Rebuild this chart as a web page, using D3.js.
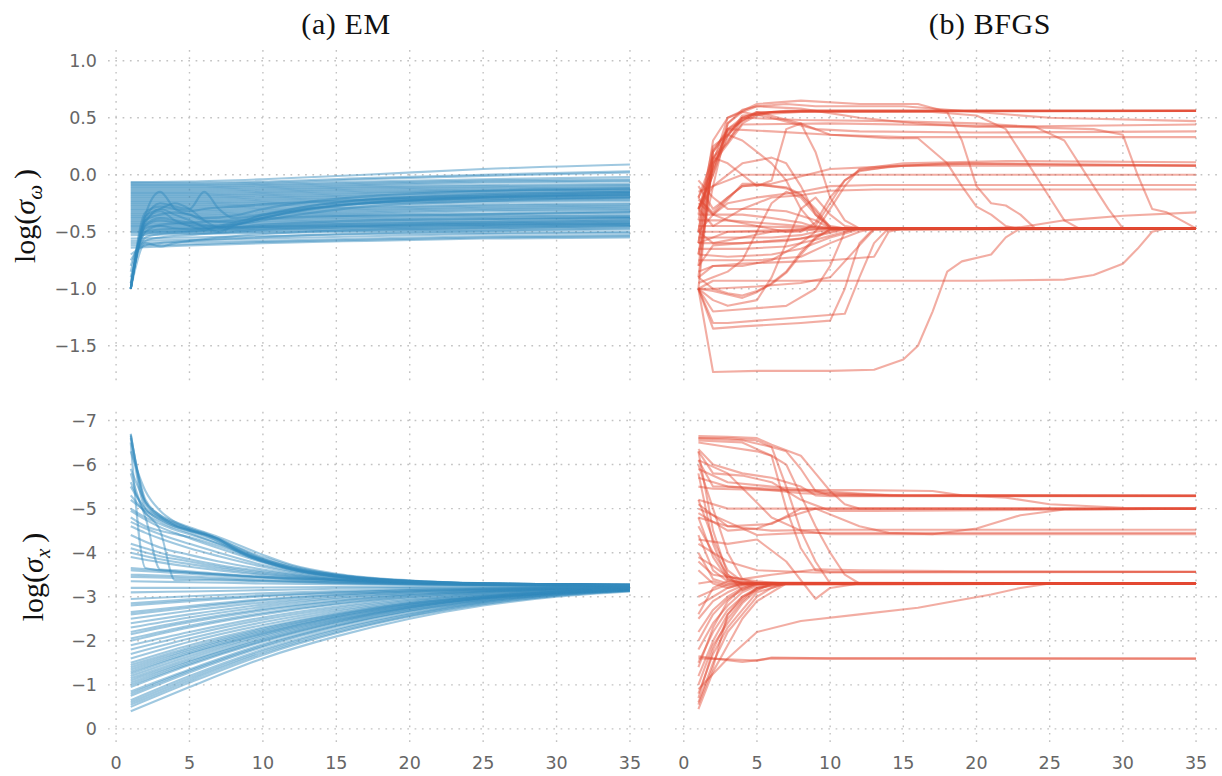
<!DOCTYPE html>
<html><head><meta charset="utf-8">
<script src="https://cdn.jsdelivr.net/npm/d3@7"></script>
<style>
html,body{margin:0;padding:0;background:#fff;}
svg{display:block;}
</style></head>
<body>
<script>
// ---------- tick labels ----------
const iterTicks = [0, 5, 10, 15, 20, 25, 30, 35];
const omegaTicks = [1.0, 0.5, 0.0, -0.5, -1.0, -1.5];
const sigmaXTicks = [-7, -6, -5, -4, -3, -2, -1, 0];
const panelTitles = ["(a) EM", "(b) BFGS"];

// ---------- series: each run is a list of [iteration, value] ----------
const emOmega = [
 [[1,-0.065],[5,-0.06],[10,-0.04],[17,0.0],[25,0.05],[35,0.09]],
 [[1,-0.07],[5,-0.07],[10,-0.06],[17,-0.03],[25,0.0],[35,0.03]],
 [[1,-0.08],[5,-0.08],[10,-0.07],[17,-0.04],[25,-0.01],[35,0.02]],
 [[1,-0.09],[5,-0.09],[10,-0.08],[17,-0.06],[25,-0.04],[35,-0.02]],
 [[1,-0.1],[5,-0.1],[10,-0.09],[17,-0.07],[25,-0.05],[35,-0.04]],
 [[1,-0.11],[5,-0.11],[10,-0.1],[17,-0.08],[25,-0.06],[35,-0.05]],
 [[1,-0.12],[5,-0.12],[10,-0.11],[17,-0.09],[25,-0.07],[35,-0.06]],
 [[1,-0.13],[5,-0.13],[10,-0.12],[17,-0.1],[25,-0.09],[35,-0.08]],
 [[1,-0.14],[5,-0.14],[10,-0.13],[17,-0.11],[25,-0.1],[35,-0.09]],
 [[1,-0.15],[5,-0.15],[10,-0.14],[17,-0.12],[25,-0.11],[35,-0.1]],
 [[1,-0.16],[5,-0.16],[10,-0.15],[17,-0.13],[25,-0.12],[35,-0.11]],
 [[1,-0.17],[5,-0.17],[10,-0.16],[17,-0.14],[25,-0.13],[35,-0.12]],
 [[1,-0.18],[5,-0.18],[10,-0.17],[17,-0.15],[25,-0.14],[35,-0.13]],
 [[1,-0.19],[5,-0.19],[10,-0.18],[17,-0.16],[25,-0.14],[35,-0.13]],
 [[1,-0.2],[5,-0.2],[10,-0.19],[17,-0.17],[25,-0.15],[35,-0.14]],
 [[1,-0.21],[5,-0.21],[10,-0.2],[17,-0.18],[25,-0.16],[35,-0.15]],
 [[1,-0.22],[5,-0.22],[10,-0.21],[17,-0.19],[25,-0.17],[35,-0.15]],
 [[1,-0.23],[5,-0.23],[10,-0.22],[17,-0.2],[25,-0.18],[35,-0.16]],
 [[1,-0.24],[5,-0.24],[10,-0.23],[17,-0.21],[25,-0.19],[35,-0.17]],
 [[1,-0.25],[5,-0.25],[10,-0.24],[17,-0.22],[25,-0.2],[35,-0.19]],
 [[1,-0.26],[5,-0.26],[10,-0.25],[17,-0.23],[25,-0.21],[35,-0.2]],
 [[1,-0.27],[5,-0.27],[10,-0.26],[17,-0.24],[25,-0.22],[35,-0.21]],
 [[1,-0.28],[5,-0.28],[10,-0.27],[17,-0.25],[25,-0.23],[35,-0.22]],
 [[1,-0.29],[5,-0.29],[10,-0.28],[17,-0.26],[25,-0.24],[35,-0.23]],
 [[1,-0.3],[5,-0.3],[10,-0.29],[17,-0.28],[25,-0.26],[35,-0.25]],
 [[1,-0.31],[5,-0.31],[10,-0.3],[17,-0.29],[25,-0.27],[35,-0.26]],
 [[1,-0.32],[5,-0.32],[10,-0.31],[17,-0.3],[25,-0.28],[35,-0.27]],
 [[1,-0.33],[5,-0.33],[10,-0.32],[17,-0.31],[25,-0.29],[35,-0.28]],
 [[1,-0.34],[5,-0.34],[10,-0.33],[17,-0.32],[25,-0.3],[35,-0.29]],
 [[1,-0.35],[5,-0.35],[10,-0.34],[17,-0.33],[25,-0.31],[35,-0.3]],
 [[1,-0.36],[5,-0.36],[10,-0.35],[17,-0.34],[25,-0.32],[35,-0.31]],
 [[1,-0.37],[5,-0.37],[10,-0.36],[17,-0.35],[25,-0.34],[35,-0.32]],
 [[1,-0.38],[5,-0.38],[10,-0.37],[17,-0.36],[25,-0.35],[35,-0.33]],
 [[1,-0.39],[5,-0.39],[10,-0.38],[17,-0.37],[25,-0.36],[35,-0.36]],
 [[1,-0.4],[5,-0.4],[10,-0.39],[17,-0.38],[25,-0.37],[35,-0.35]],
 [[1,-0.41],[5,-0.41],[10,-0.4],[17,-0.39],[25,-0.38],[35,-0.37]],
 [[1,-0.42],[5,-0.42],[10,-0.41],[17,-0.4],[25,-0.39],[35,-0.37]],
 [[1,-0.43],[5,-0.43],[10,-0.42],[17,-0.41],[25,-0.4],[35,-0.38]],
 [[1,-0.44],[5,-0.44],[10,-0.43],[17,-0.42],[25,-0.41],[35,-0.39]],
 [[1,-0.45],[5,-0.45],[10,-0.44],[17,-0.43],[25,-0.42],[35,-0.4]],
 [[1,-0.46],[5,-0.46],[10,-0.45],[17,-0.44],[25,-0.43],[35,-0.41]],
 [[1,-0.47],[5,-0.47],[10,-0.46],[17,-0.45],[25,-0.44],[35,-0.42]],
 [[1,-0.48],[5,-0.48],[10,-0.47],[17,-0.46],[25,-0.45],[35,-0.43]],
 [[1,-0.49],[5,-0.49],[10,-0.48],[17,-0.47],[25,-0.46],[35,-0.44]],
 [[1,-0.5],[5,-0.5],[10,-0.49],[17,-0.48],[25,-0.47],[35,-0.45]],
 [[1,-0.51],[5,-0.51],[10,-0.5],[17,-0.49],[25,-0.48],[35,-0.46]],
 [[1,-0.53],[5,-0.52],[10,-0.51],[17,-0.5],[25,-0.49],[35,-0.47]],
 [[1,-0.56],[5,-0.55],[10,-0.54],[17,-0.52],[25,-0.51],[35,-0.5]],
 [[1,-0.58],[5,-0.57],[10,-0.56],[17,-0.54],[25,-0.52],[35,-0.51]],
 [[1,-0.6],[5,-0.59],[10,-0.58],[17,-0.56],[25,-0.54],[35,-0.53]],
 [[1,-0.62],[5,-0.61],[10,-0.59],[17,-0.57],[25,-0.55],[35,-0.54]],
 [[1,-0.64],[5,-0.62],[10,-0.6],[17,-0.58],[25,-0.56],[35,-0.55]],
 [[1,-1.0],[2,-0.35],[3,-0.15],[4,-0.3],[5,-0.35],[6,-0.4],[8,-0.42],[10,-0.35],[13,-0.28],[17,-0.22],[23,-0.18],[35,-0.15]],
 [[1,-1.0],[2,-0.38],[3,-0.25],[4,-0.28],[5,-0.3],[6,-0.15],[7,-0.3],[8,-0.38],[10,-0.35],[13,-0.3],[17,-0.25],[23,-0.21],[35,-0.18]],
 [[1,-1.0],[2,-0.4],[3,-0.32],[4,-0.4],[5,-0.45],[6,-0.48],[7,-0.45],[8,-0.42],[10,-0.36],[13,-0.28],[17,-0.22],[23,-0.19],[35,-0.16]],
 [[1,-1.0],[2,-0.42],[3,-0.3],[4,-0.35],[5,-0.4],[6,-0.46],[7,-0.5],[8,-0.45],[10,-0.38],[13,-0.3],[17,-0.24],[23,-0.2],[35,-0.17]],
 [[1,-1.0],[2,-0.45],[3,-0.4],[4,-0.42],[5,-0.44],[6,-0.45],[8,-0.44],[10,-0.4],[13,-0.34],[17,-0.28],[23,-0.24],[35,-0.2]],
 [[1,-0.95],[2,-0.5],[3,-0.45],[4,-0.47],[5,-0.48],[6,-0.47],[8,-0.46],[10,-0.44],[13,-0.42],[17,-0.4],[23,-0.39],[35,-0.38]],
 [[1,-1.0],[2,-0.6],[3,-0.63],[4,-0.6],[5,-0.58],[8,-0.54],[13,-0.5],[23,-0.47],[35,-0.45]],
 [[1,-0.9],[2,-0.55],[3,-0.52],[5,-0.5],[8,-0.48],[13,-0.46],[23,-0.43],[35,-0.42]],
 [[1,-0.85],[2,-0.5],[3,-0.48],[5,-0.47],[8,-0.46],[13,-0.45],[23,-0.44],[35,-0.43]],
 [[1,-0.75],[2,-0.58],[3,-0.55],[5,-0.53],[8,-0.5],[13,-0.47],[23,-0.45],[35,-0.44]],
 [[1,-0.7],[2,-0.62],[3,-0.6],[5,-0.58],[8,-0.56],[13,-0.53],[23,-0.5],[35,-0.48]],
 [[1,-1.0],[2,-0.33],[3,-0.28],[4,-0.3],[5,-0.32],[6,-0.3],[8,-0.28],[10,-0.26],[13,-0.24],[17,-0.22],[23,-0.2],[35,-0.18]],
 [[1,-1.0],[2,-0.36],[3,-0.3],[4,-0.25],[5,-0.3],[6,-0.4],[7,-0.46],[8,-0.44],[10,-0.38],[13,-0.3],[17,-0.25],[23,-0.22],[35,-0.2]],
 [[1,-0.95],[2,-0.47],[3,-0.44],[5,-0.42],[8,-0.4],[13,-0.37],[23,-0.35],[35,-0.33]],
 [[1,-1.0],[2,-0.4],[3,-0.35],[4,-0.33],[5,-0.35],[6,-0.38],[8,-0.36],[10,-0.3],[13,-0.24],[17,-0.19],[23,-0.15],[35,-0.12]],
 [[1,-0.8],[2,-0.52],[3,-0.5],[5,-0.49],[8,-0.47],[13,-0.44],[23,-0.42],[35,-0.4]],
 [[1,-1.0],[2,-0.44],[3,-0.38],[4,-0.4],[5,-0.42],[6,-0.44],[7,-0.46],[8,-0.44],[10,-0.38],[13,-0.31],[17,-0.25],[23,-0.21],[35,-0.18]]
];

const emSigmaX = [
 [[1,-0.4],[5,-0.95],[10,-1.6],[15,-2.1],[20,-2.5],[25,-2.8],[30,-3.0],[35,-3.12]],
 [[1,-0.5],[5,-1.05],[10,-1.68],[15,-2.17],[20,-2.55],[25,-2.83],[30,-3.02],[35,-3.13]],
 [[1,-0.55],[5,-1.1],[10,-1.72],[15,-2.2],[20,-2.57],[25,-2.85],[30,-3.03],[35,-3.14]],
 [[1,-0.6],[5,-1.15],[10,-1.76],[15,-2.24],[20,-2.6],[25,-2.87],[30,-3.04],[35,-3.14]],
 [[1,-0.65],[5,-1.2],[10,-1.8],[15,-2.27],[20,-2.62],[25,-2.88],[30,-3.05],[35,-3.14]],
 [[1,-0.75],[5,-1.28],[10,-1.86],[15,-2.32],[20,-2.66],[25,-2.9],[30,-3.06],[35,-3.15]],
 [[1,-0.8],[5,-1.32],[10,-1.89],[15,-2.34],[20,-2.68],[25,-2.91],[30,-3.07],[35,-3.15]],
 [[1,-0.85],[5,-1.35],[10,-1.92],[15,-2.36],[20,-2.69],[25,-2.92],[30,-3.07],[35,-3.15]],
 [[1,-0.95],[5,-1.45],[10,-1.98],[15,-2.4],[20,-2.72],[25,-2.94],[30,-3.08],[35,-3.16]],
 [[1,-1.0],[5,-1.48],[10,-2.0],[15,-2.42],[20,-2.73],[25,-2.95],[30,-3.08],[35,-3.16]],
 [[1,-1.05],[5,-1.52],[10,-2.03],[15,-2.44],[20,-2.75],[25,-2.96],[30,-3.09],[35,-3.16]],
 [[1,-1.1],[5,-1.55],[10,-2.06],[15,-2.46],[20,-2.76],[25,-2.96],[30,-3.09],[35,-3.16]],
 [[1,-1.15],[5,-1.6],[10,-2.1],[15,-2.48],[20,-2.77],[25,-2.97],[30,-3.09],[35,-3.17]],
 [[1,-1.2],[5,-1.65],[10,-2.13],[15,-2.5],[20,-2.78],[25,-2.97],[30,-3.1],[35,-3.17]],
 [[1,-1.25],[5,-1.7],[10,-2.16],[15,-2.53],[20,-2.8],[25,-2.98],[30,-3.1],[35,-3.17]],
 [[1,-1.3],[5,-1.73],[10,-2.18],[15,-2.54],[20,-2.81],[25,-2.99],[30,-3.1],[35,-3.17]],
 [[1,-1.35],[5,-1.77],[10,-2.21],[15,-2.56],[20,-2.82],[25,-3.0],[30,-3.11],[35,-3.17]],
 [[1,-1.4],[5,-1.81],[10,-2.24],[15,-2.58],[20,-2.84],[25,-3.0],[30,-3.11],[35,-3.18]],
 [[1,-1.45],[5,-1.85],[10,-2.27],[15,-2.6],[20,-2.85],[25,-3.01],[30,-3.11],[35,-3.18]],
 [[1,-1.5],[5,-1.9],[10,-2.3],[15,-2.62],[20,-2.86],[25,-3.02],[30,-3.12],[35,-3.18]],
 [[1,-1.6],[5,-1.98],[10,-2.36],[15,-2.66],[20,-2.88],[25,-3.03],[30,-3.12],[35,-3.18]],
 [[1,-1.7],[5,-2.05],[10,-2.42],[15,-2.7],[20,-2.91],[25,-3.05],[30,-3.13],[35,-3.18]],
 [[1,-1.8],[5,-2.13],[10,-2.48],[15,-2.74],[20,-2.93],[25,-3.06],[30,-3.14],[35,-3.19]],
 [[1,-1.9],[5,-2.2],[10,-2.53],[15,-2.78],[20,-2.96],[25,-3.08],[30,-3.15],[35,-3.19]],
 [[1,-2.0],[5,-2.3],[10,-2.6],[15,-2.83],[20,-2.99],[25,-3.1],[30,-3.16],[35,-3.19]],
 [[1,-2.05],[5,-2.34],[10,-2.63],[15,-2.85],[20,-3.0],[25,-3.1],[30,-3.16],[35,-3.19]],
 [[1,-2.15],[5,-2.42],[10,-2.69],[15,-2.89],[20,-3.03],[25,-3.12],[30,-3.17],[35,-3.2]],
 [[1,-2.2],[5,-2.46],[10,-2.72],[15,-2.91],[20,-3.04],[25,-3.12],[30,-3.17],[35,-3.2]],
 [[1,-2.3],[5,-2.53],[10,-2.77],[15,-2.95],[20,-3.06],[25,-3.13],[30,-3.18],[35,-3.2]],
 [[1,-2.4],[5,-2.6],[10,-2.82],[15,-2.98],[20,-3.08],[25,-3.14],[30,-3.18],[35,-3.2]],
 [[1,-2.5],[5,-2.68],[10,-2.87],[15,-3.01],[20,-3.1],[25,-3.15],[30,-3.19],[35,-3.21]],
 [[1,-2.6],[5,-2.75],[10,-2.92],[15,-3.04],[20,-3.12],[25,-3.16],[30,-3.19],[35,-3.21]],
 [[1,-2.65],[5,-2.79],[10,-2.94],[15,-3.05],[20,-3.12],[25,-3.17],[30,-3.2],[35,-3.21]],
 [[1,-2.8],[5,-2.9],[10,-3.01],[15,-3.09],[20,-3.15],[25,-3.18],[30,-3.2],[35,-3.21]],
 [[1,-2.85],[5,-2.94],[10,-3.03],[15,-3.1],[20,-3.15],[25,-3.18],[30,-3.2],[35,-3.22]],
 [[1,-2.95],[5,-3.01],[10,-3.08],[15,-3.13],[20,-3.17],[25,-3.19],[30,-3.21],[35,-3.22]],
 [[1,-3.1],[5,-3.12],[10,-3.15],[15,-3.18],[20,-3.2],[25,-3.21],[30,-3.22],[35,-3.22]],
 [[1,-3.2],[5,-3.2],[10,-3.21],[15,-3.22],[20,-3.22],[25,-3.23],[30,-3.23],[35,-3.23]],
 [[1,-6.7],[2,-5.1],[3,-4.8],[4,-4.62],[5,-4.5],[6,-4.4],[7,-4.25],[8,-4.08],[9,-3.92],[10,-3.8],[12,-3.62],[15,-3.46],[20,-3.34],[25,-3.29],[35,-3.26]],
 [[1,-6.65],[2,-5.2],[3,-4.85],[4,-4.65],[5,-4.52],[6,-4.42],[7,-4.3],[8,-4.12],[9,-3.95],[10,-3.83],[12,-3.64],[15,-3.48],[20,-3.35],[25,-3.3],[35,-3.27]],
 [[1,-6.6],[2,-5.0],[3,-4.75],[4,-4.6],[5,-4.5],[6,-4.42],[7,-4.32],[8,-4.15],[9,-4.0],[10,-3.86],[12,-3.66],[15,-3.5],[20,-3.36],[25,-3.3],[35,-3.27]],
 [[1,-6.5],[2,-3.65],[3,-3.6],[5,-3.55],[10,-3.45],[15,-3.38],[20,-3.32],[35,-3.27]],
 [[1,-5.6],[2,-4.8],[3,-3.62],[4,-3.6],[6,-3.55],[10,-3.45],[15,-3.38],[20,-3.32],[35,-3.27]],
 [[1,-5.3],[2,-4.9],[3,-4.5],[4,-3.38],[6,-3.38],[10,-3.35],[20,-3.3],[35,-3.27]],
 [[1,-5.9],[2,-5.15],[3,-4.85],[4,-4.7],[5,-4.58],[7,-4.35],[10,-3.95],[12,-3.72],[15,-3.52],[20,-3.37],[25,-3.31],[35,-3.27]],
 [[1,-5.5],[2,-5.0],[3,-4.8],[4,-4.67],[5,-4.55],[7,-4.3],[10,-3.9],[12,-3.7],[15,-3.5],[20,-3.36],[25,-3.3],[35,-3.27]],
 [[1,-5.2],[2,-4.95],[3,-4.75],[4,-4.6],[5,-4.5],[7,-4.25],[10,-3.85],[12,-3.66],[15,-3.48],[20,-3.35],[25,-3.3],[35,-3.27]],
 [[1,-5.0],[2,-4.8],[3,-4.65],[4,-4.52],[5,-4.42],[7,-4.2],[10,-3.82],[12,-3.63],[15,-3.46],[20,-3.34],[25,-3.29],[35,-3.26]],
 [[1,-4.95],[2,-4.75],[3,-4.58],[4,-4.45],[5,-4.33],[7,-4.1],[10,-3.78],[12,-3.6],[15,-3.45],[20,-3.34],[25,-3.29],[35,-3.26]],
 [[1,-4.7],[2,-4.55],[3,-4.42],[5,-4.2],[7,-4.0],[10,-3.72],[12,-3.58],[15,-3.44],[20,-3.33],[25,-3.29],[35,-3.26]],
 [[1,-4.6],[2,-4.45],[3,-4.32],[5,-4.1],[7,-3.92],[10,-3.68],[12,-3.55],[15,-3.42],[20,-3.33],[25,-3.29],[35,-3.26]],
 [[1,-4.4],[2,-4.25],[3,-4.12],[5,-3.95],[7,-3.8],[10,-3.62],[15,-3.4],[20,-3.32],[25,-3.28],[35,-3.26]],
 [[1,-4.2],[2,-4.1],[3,-4.0],[5,-3.85],[7,-3.72],[10,-3.58],[15,-3.4],[20,-3.32],[25,-3.28],[35,-3.25]],
 [[1,-4.1],[3,-3.92],[5,-3.8],[7,-3.68],[10,-3.55],[15,-3.39],[20,-3.31],[35,-3.25]],
 [[1,-4.0],[3,-3.85],[5,-3.74],[7,-3.64],[10,-3.52],[15,-3.38],[20,-3.31],[35,-3.25]],
 [[1,-3.9],[3,-3.78],[5,-3.68],[8,-3.56],[12,-3.44],[17,-3.35],[25,-3.28],[35,-3.25]],
 [[1,-3.65],[3,-3.6],[5,-3.55],[8,-3.48],[12,-3.4],[17,-3.33],[25,-3.27],[35,-3.25]],
 [[1,-3.6],[3,-3.56],[5,-3.52],[8,-3.46],[12,-3.39],[17,-3.32],[25,-3.27],[35,-3.25]],
 [[1,-3.5],[5,-3.46],[10,-3.38],[15,-3.32],[25,-3.27],[35,-3.24]],
 [[1,-3.45],[5,-3.42],[10,-3.36],[15,-3.31],[25,-3.26],[35,-3.24]],
 [[1,-3.35],[5,-3.33],[10,-3.3],[20,-3.27],[35,-3.24]],
 [[1,-6.3],[2,-5.4],[3,-4.95],[4,-4.7],[5,-4.55],[6,-4.45],[7,-4.3],[8,-4.1],[10,-3.85],[12,-3.67],[15,-3.5],[20,-3.36],[25,-3.3],[35,-3.27]],
 [[1,-5.8],[2,-4.9],[3,-4.7],[5,-4.45],[7,-4.2],[10,-3.8],[12,-3.62],[15,-3.46],[20,-3.34],[35,-3.26]],
 [[1,-4.8],[2,-4.6],[3,-4.5],[5,-4.35],[7,-4.15],[10,-3.8],[12,-3.62],[15,-3.46],[20,-3.34],[35,-3.26]],
 [[1,-6.68],[2,-5.15],[3,-4.82],[4,-4.63],[5,-4.52],[6,-4.43],[7,-4.3],[8,-4.1],[9,-3.94],[10,-3.82],[12,-3.63],[15,-3.47],[20,-3.35],[25,-3.3],[35,-3.27]]
];

const bfgsOmega = [
 [[1,-1.0],[2,0.22],[3,0.38],[4,0.47],[5,0.53],[6,0.55],[8,0.56],[35,0.56]],
 [[1,-0.6],[2,0.2],[3,0.4],[4,0.5],[5,0.54],[7,0.56],[35,0.56]],
 [[1,-0.35],[2,0.25],[3,0.35],[4,0.48],[5,0.54],[8,0.56],[35,0.56]],
 [[1,-0.8],[2,0.1],[3,0.3],[4,0.45],[5,0.52],[6,0.55],[9,0.56],[35,0.56]],
 [[1,-0.9],[2,0.15],[3,0.28],[4,0.5],[5,0.55],[35,0.56]],
 [[1,-0.5],[2,0.3],[3,0.5],[5,0.6],[7,0.62],[9,0.6],[15,0.6],[20,0.55],[25,0.5],[35,0.47]],
 [[1,-0.3],[2,0.0],[3,0.45],[4,0.57],[5,0.6],[8,0.58],[12,0.5],[16,0.45],[20,0.42],[35,0.44]],
 [[1,-0.7],[2,-0.1],[3,0.45],[4,0.55],[6,0.5],[9,0.4],[12,0.38],[20,0.37],[35,0.38]],
 [[1,-0.2],[2,0.05],[3,0.4],[5,0.55],[8,0.45],[10,0.35],[15,0.33],[35,0.33]],
 [[1,-0.6],[2,0.1],[3,0.5],[5,0.62],[8,0.65],[12,0.62],[16,0.62],[18,0.55],[19,0.3],[20,-0.1],[21,-0.25],[22,-0.27],[23,-0.35],[24,-0.47],[35,-0.47]],
 [[1,-0.4],[2,0.15],[4,0.52],[8,0.55],[12,0.55],[17,0.55],[20,0.52],[22,0.4],[23,0.2],[25,-0.2],[26,-0.4],[27,-0.47],[35,-0.47]],
 [[1,-0.5],[2,0.2],[4,0.5],[8,0.48],[14,0.47],[20,0.45],[24,0.42],[26,0.3],[28,-0.1],[29,-0.3],[30,-0.47],[35,-0.47]],
 [[1,-0.3],[3,0.4],[6,0.38],[10,0.35],[14,0.32],[16,0.32],[18,0.1],[19,-0.1],[20,-0.28],[21,-0.35],[22,-0.45],[23,-0.48],[35,-0.47]],
 [[1,-0.7],[2,0.1],[4,0.44],[10,0.45],[20,0.43],[28,0.4],[30,0.35],[31,0.0],[32,-0.3],[33,-0.33],[34,-0.4],[35,-0.47]],
 [[1,-0.2],[2,-0.35],[3,-0.4],[5,-0.45],[7,-0.5],[8,-0.5],[9,-0.42],[10,-0.2],[11,-0.05],[12,0.03],[14,0.07],[18,0.1],[25,0.09],[35,0.08]],
 [[1,-0.5],[2,-0.6],[4,-0.55],[6,-0.5],[8,-0.48],[9,-0.45],[10,-0.25],[11,-0.05],[12,0.04],[15,0.08],[20,0.1],[35,0.08]],
 [[1,-0.9],[2,-0.8],[4,-0.8],[6,-0.75],[8,-0.6],[9,-0.5],[10,-0.3],[11,-0.1],[12,0.05],[15,0.1],[22,0.12],[35,0.11]],
 [[1,-0.1],[2,-0.3],[4,-0.1],[6,-0.08],[10,0.05],[15,0.08],[35,0.08]],
 [[1,-0.5],[2,-0.35],[3,-0.25],[5,-0.2],[8,-0.15],[10,-0.1],[13,-0.09],[35,-0.09]],
 [[1,-0.3],[2,-0.45],[4,-0.3],[6,-0.2],[8,-0.18],[10,-0.14],[13,-0.13],[35,-0.13]],
 [[1,-0.15],[2,-0.1],[4,0.0],[8,0.0],[35,0.0]],
 [[1,-0.25],[2,-0.35],[3,-0.22],[4,-0.08],[5,-0.08],[6,-0.1],[7,-0.11],[8,-0.17],[9,-0.3],[10,-0.46],[11,-0.47],[35,-0.47]],
 [[1,-0.22],[2,-0.33],[3,-0.2],[4,-0.1],[5,-0.09],[6,-0.1],[7,-0.12],[8,-0.18],[9,-0.32],[10,-0.47],[35,-0.47]],
 [[1,-1.0],[2,-1.02],[3,-1.05],[4,-1.08],[5,-1.03],[6,-0.95],[7,-0.85],[8,-0.68],[9,-0.55],[10,-0.48],[35,-0.47]],
 [[1,-1.0],[2,-1.0],[3,-1.04],[4,-1.06],[5,-1.02],[6,-0.96],[7,-0.86],[8,-0.7],[9,-0.56],[10,-0.48],[35,-0.47]],
 [[1,-0.35],[2,-0.35],[4,-0.35],[6,-0.38],[8,-0.42],[9,-0.46],[10,-0.47],[35,-0.47]],
 [[1,-0.4],[3,-0.4],[5,-0.42],[7,-0.44],[9,-0.46],[10,-0.47],[35,-0.47]],
 [[1,-0.45],[4,-0.45],[7,-0.46],[9,-0.47],[35,-0.47]],
 [[1,-0.5],[4,-0.5],[7,-0.5],[9,-0.48],[10,-0.47],[35,-0.47]],
 [[1,-0.55],[4,-0.55],[6,-0.55],[8,-0.53],[9,-0.5],[11,-0.47],[35,-0.47]],
 [[1,-0.6],[4,-0.6],[7,-0.58],[9,-0.54],[11,-0.48],[12,-0.47],[35,-0.47]],
 [[1,-0.65],[4,-0.65],[7,-0.63],[9,-0.57],[11,-0.5],[12,-0.47],[35,-0.47]],
 [[1,-0.7],[3,-0.72],[6,-0.7],[8,-0.65],[10,-0.55],[12,-0.48],[35,-0.47]],
 [[1,-0.75],[5,-0.75],[8,-0.72],[10,-0.6],[12,-0.5],[13,-0.47],[35,-0.47]],
 [[1,-0.95],[2,-0.9],[3,-0.85],[4,-0.75],[5,-0.5],[6,-0.25],[7,-0.15],[8,-0.2],[9,-0.35],[10,-0.45],[11,-0.47],[35,-0.47]],
 [[1,-1.0],[2,-1.1],[3,-1.15],[5,-1.1],[6,-0.9],[7,-0.6],[8,-0.3],[9,-0.2],[10,-0.35],[11,-0.45],[12,-0.47],[35,-0.47]],
 [[1,-0.2],[2,0.15],[3,0.1],[4,0.0],[5,-0.1],[6,-0.05],[7,0.4],[8,0.45],[9,0.2],[10,-0.2],[11,-0.4],[12,-0.47],[35,-0.47]],
 [[1,-0.3],[2,-0.1],[4,0.1],[6,0.15],[7,0.1],[8,-0.1],[9,-0.35],[10,-0.47],[35,-0.47]],
 [[1,-1.0],[2,-1.3],[3,-1.3],[5,-1.28],[8,-1.25],[11,-1.22],[12,-0.9],[13,-0.6],[14,-0.47],[35,-0.47]],
 [[1,-1.0],[2,-1.35],[4,-1.33],[8,-1.3],[10,-1.28],[11,-1.0],[12,-0.6],[13,-0.47],[35,-0.47]],
 [[1,-1.0],[2,-1.73],[5,-1.72],[10,-1.72],[13,-1.71],[15,-1.62],[16,-1.5],[17,-1.2],[18,-0.85],[19,-0.76],[21,-0.7],[22,-0.55],[23,-0.47],[35,-0.47]],
 [[1,-1.0],[2,-0.93],[10,-0.93],[20,-0.93],[26,-0.92],[28,-0.88],[30,-0.78],[31,-0.65],[32,-0.5],[33,-0.47],[35,-0.47]],
 [[1,-1.0],[2,-1.2],[4,-1.18],[7,-1.15],[9,-1.0],[10,-0.8],[11,-0.5],[12,-0.47],[35,-0.47]],
 [[1,-0.85],[2,-0.8],[4,-0.78],[8,-0.76],[10,-0.75],[13,-0.72],[14,-0.5],[15,-0.47],[35,-0.47]],
 [[1,-0.9],[2,-1.0],[5,-0.98],[8,-0.95],[10,-0.9],[12,-0.62],[13,-0.48],[35,-0.47]],
 [[1,-0.3],[2,0.0],[3,0.35],[4,0.3],[5,0.2],[6,0.1],[7,-0.05],[8,-0.3],[9,-0.45],[10,-0.47],[35,-0.47]],
 [[1,-0.6],[3,-0.5],[8,-0.48],[15,-0.47],[20,-0.47],[23,-0.46],[26,-0.4],[30,-0.36],[35,-0.33]],
 [[1,-0.05],[2,-0.2],[3,-0.3],[5,-0.3],[7,-0.32],[9,-0.4],[10,-0.47],[35,-0.47]],
 [[1,-0.8],[2,-0.62],[4,-0.6],[6,-0.58],[8,-0.56],[10,-0.5],[11,-0.47],[35,-0.47]]
];

const bfgsSigmaX = [
 [[1,-6.65],[3,-6.63],[5,-6.6],[6,-6.45],[8,-6.2],[9,-5.8],[10,-5.4],[11,-5.1],[12,-5.0],[35,-5.0]],
 [[1,-6.6],[3,-6.6],[5,-6.55],[6,-6.4],[7,-6.3],[8,-5.9],[9,-5.4],[10,-5.3],[35,-5.3]],
 [[1,-6.6],[4,-6.55],[6,-6.4],[7,-5.5],[8,-4.5],[9,-3.8],[10,-3.3],[35,-3.3]],
 [[1,-6.5],[3,-6.4],[5,-6.3],[6,-6.2],[7,-5.0],[8,-4.1],[9,-3.6],[10,-3.56],[35,-3.56]],
 [[1,-6.35],[2,-6.0],[4,-5.8],[6,-5.7],[8,-5.5],[9,-5.3],[10,-5.28],[35,-5.28]],
 [[1,-6.55],[4,-6.5],[6,-6.2],[7,-6.0],[8,-5.3],[9,-4.6],[10,-4.0],[11,-3.5],[12,-3.3],[35,-3.3]],
 [[1,-6.3],[2,-5.8],[4,-5.75],[6,-5.6],[8,-5.2],[10,-4.95],[13,-4.95],[35,-5.0]],
 [[1,-6.1],[2,-5.5],[3,-5.5],[5,-5.45],[8,-5.35],[12,-5.3],[35,-5.29]],
 [[1,-5.9],[3,-5.6],[6,-5.5],[10,-5.38],[14,-5.3],[35,-5.29]],
 [[1,-5.7],[3,-5.5],[6,-5.45],[10,-5.35],[15,-5.3],[35,-5.29]],
 [[1,-5.5],[2,-5.45],[6,-5.42],[12,-5.42],[17,-5.4],[19,-5.3],[22,-5.25],[25,-5.1],[30,-5.02],[35,-5.0]],
 [[1,-5.2],[3,-5.0],[5,-5.0],[10,-5.0],[35,-5.0]],
 [[1,-4.9],[3,-4.5],[5,-4.55],[7,-4.8],[9,-5.0],[12,-4.6],[14,-4.45],[17,-4.42],[20,-4.55],[23,-4.85],[26,-4.98],[35,-5.0]],
 [[1,-5.1],[3,-4.6],[6,-4.65],[8,-5.0],[35,-5.0]],
 [[1,-5.0],[3,-4.7],[5,-4.4],[8,-4.45],[10,-4.45],[35,-4.45]],
 [[1,-4.8],[3,-4.6],[6,-4.5],[10,-4.52],[35,-4.52]],
 [[1,-6.1],[3,-5.8],[6,-4.8],[8,-4.5],[10,-4.42],[35,-4.42]],
 [[1,-4.2],[3,-3.8],[5,-3.6],[9,-3.55],[35,-3.56]],
 [[1,-3.8],[2,-3.5],[4,-3.4],[6,-3.5],[9,-3.62],[12,-3.6],[20,-3.58],[35,-3.57]],
 [[1,-5.2],[2,-4.3],[3,-3.6],[4,-3.35],[5,-3.3],[35,-3.3]],
 [[1,-4.8],[2,-3.9],[3,-3.4],[4,-3.3],[35,-3.3]],
 [[1,-4.4],[2,-3.6],[3,-3.35],[4,-3.3],[35,-3.3]],
 [[1,-4.0],[2,-3.4],[3,-3.3],[35,-3.3]],
 [[1,-3.6],[2,-3.3],[3,-3.2],[4,-3.28],[35,-3.3]],
 [[1,-3.3],[2,-3.35],[3,-3.25],[5,-3.3],[35,-3.3]],
 [[1,-3.0],[2,-3.15],[3,-3.28],[4,-3.3],[35,-3.3]],
 [[1,-2.8],[2,-3.0],[3,-3.2],[4,-3.3],[35,-3.3]],
 [[1,-2.5],[2,-2.9],[3,-3.1],[4,-3.25],[5,-3.3],[35,-3.3]],
 [[1,-2.2],[2,-2.7],[3,-3.0],[4,-3.2],[5,-3.3],[35,-3.3]],
 [[1,-2.0],[2,-2.6],[3,-2.95],[4,-3.15],[5,-3.28],[6,-3.3],[35,-3.3]],
 [[1,-1.8],[2,-2.4],[3,-2.8],[4,-3.1],[5,-3.25],[6,-3.3],[35,-3.3]],
 [[1,-1.5],[2,-2.2],[3,-2.7],[4,-3.0],[5,-3.2],[7,-3.3],[35,-3.3]],
 [[1,-1.2],[2,-2.0],[3,-2.6],[4,-2.95],[5,-3.2],[7,-3.3],[35,-3.3]],
 [[1,-1.0],[2,-1.9],[3,-2.4],[4,-2.85],[5,-3.15],[6,-3.28],[35,-3.3]],
 [[1,-0.8],[2,-1.7],[3,-2.3],[4,-2.7],[5,-3.1],[7,-3.3],[35,-3.3]],
 [[1,-0.6],[2,-1.5],[3,-2.2],[4,-2.6],[5,-3.0],[6,-3.2],[7,-3.3],[35,-3.3]],
 [[1,-0.45],[2,-1.3],[3,-1.9],[4,-2.5],[5,-2.9],[7,-3.3],[35,-3.3]],
 [[1,-0.55],[2,-1.4],[3,-2.6],[4,-3.0],[6,-3.3],[35,-3.3]],
 [[1,-2.6],[2,-3.2],[3,-3.35],[5,-3.32],[35,-3.3]],
 [[1,-3.9],[2,-3.7],[3,-3.45],[5,-3.35],[7,-3.3],[35,-3.3]],
 [[1,-4.6],[2,-4.0],[3,-3.5],[4,-3.15],[5,-3.3],[35,-3.3]],
 [[1,-0.9],[3,-1.6],[5,-2.2],[8,-2.45],[12,-2.6],[16,-2.75],[19,-2.93],[21,-3.05],[23,-3.2],[25,-3.3],[35,-3.3]],
 [[1,-1.6],[3,-1.58],[5,-1.55],[6,-1.62],[10,-1.6],[35,-1.6]],
 [[1,-1.65],[2,-1.6],[4,-1.52],[6,-1.6],[35,-1.59]],
 [[1,-6.3],[2,-4.5],[3,-3.5],[4,-3.3],[35,-3.3]],
 [[1,-5.8],[2,-4.2],[3,-3.4],[4,-3.3],[35,-3.3]],
 [[1,-6.0],[3,-4.0],[4,-3.4],[5,-3.3],[35,-3.3]],
 [[1,-4.3],[3,-4.2],[5,-4.3],[7,-3.8],[9,-2.95],[10,-3.2],[12,-3.3],[35,-3.3]],
 [[1,-1.4],[2,-2.3],[3,-2.9],[4,-3.2],[5,-3.3],[35,-3.3]],
 [[1,-0.7],[2,-1.8],[3,-2.5],[4,-2.9],[5,-3.2],[6,-3.3],[35,-3.3]]
];

// ---------- drawing ----------
const W = 1222, H = 776;
const svg = d3.select("body").append("svg").attr("width", W).attr("height", H);

const colX = [
  {range: [108, 652], domain: [-0.55, 36.5]},
  {range: [675, 1218], domain: [-0.6, 36.5]}
];
const rowY = [
  {range: [50, 382], domain: [1.094, -1.818], ticks: omegaTicks, fmt: d => d3.format(".1f")(d).replace("-", "\u2212")},
  {range: [411.7, 743], domain: [-7.2, 0.32], ticks: sigmaXTicks, fmt: d => String(d).replace("-", "\u2212")}
];
const colors = ["#348ABD", "#E24A33"];
const alphas = [0.47, 0.45];
const panels = [
  {r: 0, c: 0, data: emOmega, curve: d3.curveMonotoneX},
  {r: 1, c: 0, data: emSigmaX, curve: d3.curveMonotoneX},
  {r: 0, c: 1, data: bfgsOmega, curve: d3.curveLinear},
  {r: 1, c: 1, data: bfgsSigmaX, curve: d3.curveLinear}
];

const gridColor = "#c2c2c2";
const tickColor = "#666666";
const tickFont = "DejaVu Sans, sans-serif";

panels.forEach(p => {
  const cx = colX[p.c], ry = rowY[p.r];
  const x = d3.scaleLinear().domain(cx.domain).range(cx.range);
  const y = d3.scaleLinear().domain(ry.domain).range(ry.range);
  const g = svg.append("g");
  // grid
  g.selectAll("line.vg").data(iterTicks).enter().append("line")
    .attr("x1", d => x(d)).attr("x2", d => x(d))
    .attr("y1", ry.range[0]).attr("y2", ry.range[1])
    .attr("stroke", gridColor).attr("stroke-width", 1.4).attr("stroke-dasharray", "1.7,5.6");
  g.selectAll("line.hg").data(ry.ticks).enter().append("line")
    .attr("x1", cx.range[0]).attr("x2", cx.range[1])
    .attr("y1", d => y(d)).attr("y2", d => y(d))
    .attr("stroke", gridColor).attr("stroke-width", 1.4).attr("stroke-dasharray", "1.7,5.6");
  // lines
  const line = d3.line().x(d => x(d[0])).y(d => y(d[1])).curve(p.curve);
  g.selectAll("path.run").data(p.data).enter().append("path")
    .attr("d", line).attr("fill", "none")
    .attr("stroke", colors[p.c]).attr("stroke-opacity", alphas[p.c])
    .attr("stroke-width", 2.1).attr("stroke-linejoin", "round");
  // y tick labels (left column only)
  if (p.c === 0) {
    g.selectAll("text.yt").data(ry.ticks).enter().append("text")
      .attr("x", 97).attr("y", d => y(d)).attr("dy", "0.36em")
      .attr("text-anchor", "end").attr("font-family", tickFont)
      .attr("font-size", 17.5).attr("fill", tickColor).text(ry.fmt);
  }
  // x tick labels (bottom row only)
  if (p.r === 1) {
    g.selectAll("text.xt").data(iterTicks).enter().append("text")
      .attr("x", d => x(d)).attr("y", 769)
      .attr("text-anchor", "middle").attr("font-family", tickFont)
      .attr("font-size", 17.5).attr("fill", tickColor).text(d => d);
  }
});

// titles
const serif = "Liberation Serif, Times New Roman, serif";
svg.append("text").attr("x", 346).attr("y", 34).attr("text-anchor", "middle")
  .attr("font-family", serif).attr("font-size", 30).attr("letter-spacing", 0.6).attr("fill", "#111").text(panelTitles[0]);
svg.append("text").attr("x", 990).attr("y", 34).attr("text-anchor", "middle")
  .attr("font-family", serif).attr("font-size", 30).attr("letter-spacing", 0.6).attr("fill", "#111").text(panelTitles[1]);

// y labels
function yLabel(cx, cy, sub) {
  const t = svg.append("text").attr("transform", `translate(${cx},${cy}) rotate(-90)`)
    .attr("text-anchor", "middle").attr("font-family", serif).attr("font-size", 30).attr("fill", "#111");
  t.append("tspan").text("log(");
  t.append("tspan").attr("font-style", "italic").text("\u03C3");
  t.append("tspan").attr("font-style", "italic").attr("font-size", 21).attr("dy", 7).text(sub);
  t.append("tspan").attr("dy", -7).text("\u2009)");
}
yLabel(35, 216, "\u03C9");
yLabel(43, 577, "x");
</script>
</body></html>
